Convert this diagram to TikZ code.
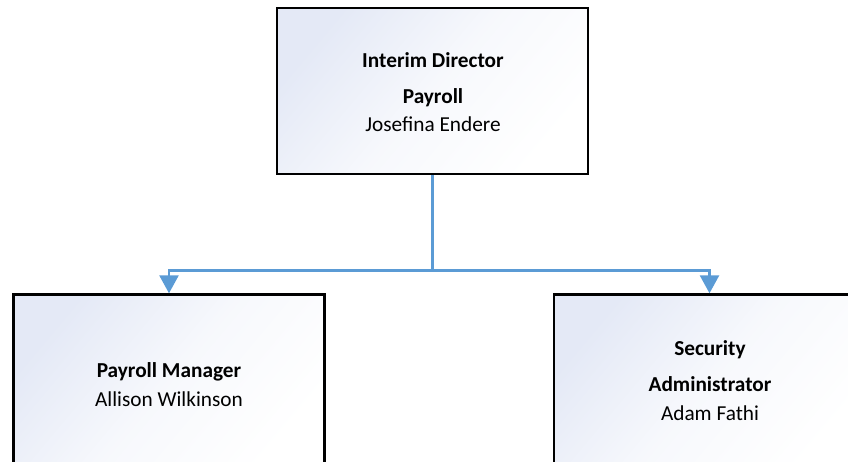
\documentclass[tikz,border=0pt]{standalone}
\usepackage{fontspec}
\setmainfont{Carlito}
\usetikzlibrary{arrows.meta}
\definecolor{boxtl}{RGB}{228,233,246}
\definecolor{connblue}{RGB}{91,155,213}
\tikzset{
  orgbox/.style={draw=black, line width=2.4pt, rectangle, inner sep=0pt,
    minimum width=311pt, minimum height=166pt,
    top color=boxtl, bottom color=white, middle color=boxtl!30!white, shading angle=50},
  lowbox/.style={orgbox, minimum height=174pt},
  titletxt/.style={font=\fontsize{21.3pt}{24pt}\selectfont\bfseries, anchor=base, inner sep=0pt},
  nametxt/.style={font=\fontsize{21.3pt}{24pt}\selectfont, anchor=base, inner sep=0pt},
  conn/.style={draw=connblue, line width=2.6pt},
  connarrow/.style={conn, -{Triangle[width=19pt,length=18pt]}}
}
\begin{document}
\begin{tikzpicture}[x=1pt,y=-1pt]
\useasboundingbox (0,0) rectangle (848,461);
\begin{scope}
\clip (0,0) rectangle (848,461);
\node[orgbox] (top) at (432.5,91.2) {};
\node[lowbox] (left) at (169,381.5) {};
\node[lowbox] (right) at (709.5,381.5) {};
\end{scope}
% texts
\node[titletxt] (t1) at (433,67) {Interim Director};
\node[titletxt] (t2) at (433,103) {Payroll};
\node[nametxt] (t3) at (433,131) {Josefina Endere};
\node[titletxt] (l1) at (169,377) {Payroll Manager};
\node[nametxt] (l2) at (169,406) {Allison Wilkinson};
\node[titletxt] (r1) at (710,355) {Security};
\node[titletxt] (r2) at (710,391) {Administrator};
\node[nametxt] (r3) at (710,420) {Adam Fathi};
% connectors
\coordinate (bus) at (432.5,270.5);
\draw[conn] (top.south) -- (bus);
\draw[connarrow] (bus) -| (left.north);
\draw[connarrow] (bus) -| (right.north);
\end{tikzpicture}
\end{document}
